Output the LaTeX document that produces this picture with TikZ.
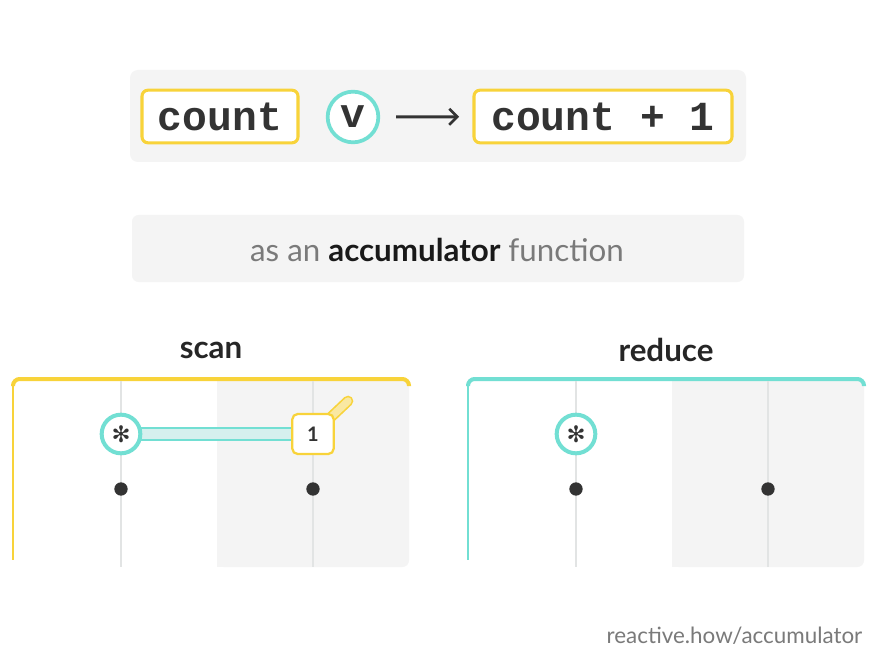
\documentclass[tikz,border=0pt]{standalone}
\usepackage{fontspec}
\setmainfont{Lato}
\newfontfamily\codefont{Liberation Mono}
\newfontfamily\symfont{DejaVu Sans}
\usepackage{tikz}
\usetikzlibrary{arrows.meta,positioning}
\definecolor{AccYellow}{HTML}{F8D33A}
\definecolor{AccPaleYellow}{HTML}{F9E8A2}
\definecolor{AccTeal}{HTML}{72DFD3}
\definecolor{AccPaleTeal}{HTML}{D5F0EE}
\definecolor{AccInk}{HTML}{333333}
\definecolor{AccGray}{HTML}{7A7A7A}
\definecolor{AccPanel}{HTML}{F4F4F4}
\definecolor{AccRule}{HTML}{E2E4E4}
\tikzset{
  >=Latex,
  codebox/.style={draw=AccYellow,line width=2.3pt,rounded corners=4.5pt,fill=white,
    text=AccInk,font=\codefont\bfseries\fontsize{31}{31}\selectfont,inner sep=0pt},
  valcircle/.style={circle,draw=AccTeal,line width=2.8pt,fill=white,text=AccInk,
    minimum size=38pt,inner sep=0pt},
  seedcircle/.style={circle,draw=AccTeal,line width=3pt,fill=white,text=AccInk,
    minimum size=29pt,inner sep=0pt,font=\symfont\fontsize{17}{17}\selectfont},
  accbox/.style={draw=AccYellow,line width=1.7pt,rounded corners=4pt,fill=white,
    text=AccInk,minimum width=31pt,minimum height=30pt,inner sep=0pt,
    font=\bfseries\fontsize{15}{15}\selectfont},
  event/.style={circle,fill=AccInk,minimum size=10pt,inner sep=0pt},
  title/.style={font=\bfseries\fontsize{23.5}{23.5}\selectfont,text=black!85},
  track/.style={draw=AccRule,line width=1.2pt},
  mapsto/.style={-{Straight Barb[length=6pt,width=12pt,line width=2pt]},line width=2.2pt,
    draw=AccInk,shorten <=12pt,shorten >=10pt}
}
\begin{document}
\begin{tikzpicture}[x=0.75pt,y=-0.75pt]
  \useasboundingbox[fill=white] (0,0) rectangle (876,660);

  % the function
  \fill[AccPanel,rounded corners=6pt] (130,70) rectangle (746,162);
  \node[codebox,minimum width=117pt,minimum height=39.5pt] (count) at (220,116.5) {count};
  \node[valcircle,font=\codefont\bfseries\fontsize{31}{31}\selectfont] (v) at (353,117) {v};
  \node[codebox,minimum width=193.5pt,minimum height=39.5pt] (countplus) at (603,116.5) {count + 1};
  \draw[mapsto] (v) -- (countplus);

  \fill[AccPanel,rounded corners=5pt] (132,215) rectangle (744,282);
  \node[text=AccGray,font=\fontsize{23.5}{23.5}\selectfont] (caption) at (437,250)
    {as an \textcolor{black!90}{\bfseries accumulator} function};

  % scan
  \node[title] (scantitle) at (211,350) {scan};
  \fill[AccPanel,rounded corners=5pt] (217,379) -- (409,379) -- (409,567) -- (217,567) -- cycle;
  \fill[AccPanel] (217,379) rectangle (380,567);
  \draw[AccYellow,line width=1pt] (13,382) -- (13,560);
  \draw[AccYellow,line width=3pt,rounded corners=5pt] (13,386) -- (13,379) -- (409,379) -- (409,386);
  \draw[track] (121,381) -- (121,567);
  \draw[track] (313,381) -- (313,567);
  \coordinate (scanseedc) at (121,434);
  \coordinate (scanonec) at (313,434);
  \coordinate (scanflag) at (348,401);
  \draw[AccTeal,line width=10pt] (scanseedc) -- (scanonec);
  \draw[AccPaleTeal,line width=7pt] (scanseedc) -- (scanonec);
  \draw[AccYellow,line width=8pt,line cap=round] (330,418) -- (scanflag);
  \draw[AccPaleYellow,line width=5.5pt,line cap=round] (330,418) -- (scanflag);
  \node[seedcircle] (scanseed) at (scanseedc) {✻};
  \node[accbox] (scanone) at (scanonec) {1};
  \node[event] (scanev1) at (121,489) {};
  \node[event] (scanev2) at (313,489) {};

  % reduce
  \node[title] (reducetitle) at (666,350) {reduce};
  \fill[AccPanel,rounded corners=5pt] (672,379) -- (864,379) -- (864,567) -- (672,567) -- cycle;
  \fill[AccPanel] (672,379) rectangle (835,567);
  \draw[AccTeal,line width=1pt] (468,382) -- (468,560);
  \draw[AccTeal,line width=3pt,rounded corners=5pt] (468,386) -- (468,379) -- (864,379) -- (864,386);
  \draw[track] (576,381) -- (576,567);
  \draw[track] (768,381) -- (768,567);
  \node[seedcircle] (reduceseed) at (576,434) {✻};
  \node[event] (reduceev1) at (576,489) {};
  \node[event] (reduceev2) at (768,489) {};

  \node[anchor=east,text=AccGray,font=\fontsize{16.8}{16.8}\selectfont] (credit) at (867,636)
    {reactive.how/accumulator};
\end{tikzpicture}
\end{document}
